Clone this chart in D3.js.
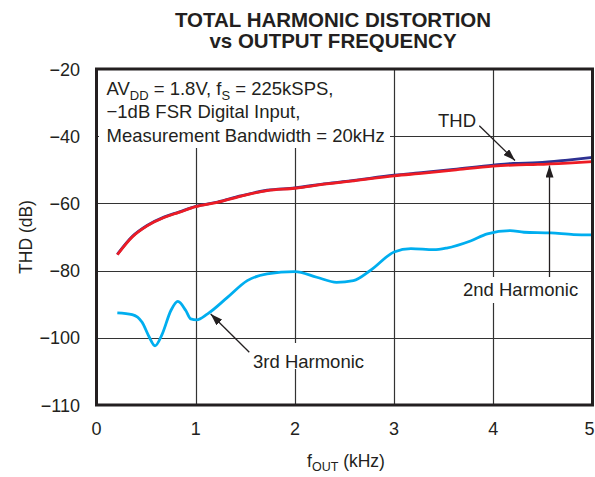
<!DOCTYPE html>
<html><head><meta charset="utf-8">
<script src="https://cdn.jsdelivr.net/npm/d3@7"></script>
<style>body{margin:0;background:#fff}svg{display:block}text{font-family:"Liberation Sans",Arial,sans-serif;fill:#231f20}</style>
</head><body><svg id="c" width="595" height="477"></svg>
<script>
// ---- data ----
const freqMain = [0.21,0.36,0.51,0.68,0.83,1.0,1.22,1.45,1.72,2.0,2.32,2.56,3.0,3.3,3.6,4.0,4.2,4.45,4.75,5.0];
const thdValues = [-75.2,-69.9,-66.6,-64.1,-62.6,-60.9,-59.6,-57.8,-56.1,-55.4,-54.1,-53.3,-51.6,-50.8,-49.9,-48.6,-48.1,-47.9,-47.1,-46.3];
const secondValues = [-75.3,-70.0,-66.7,-64.2,-62.7,-61.0,-59.7,-57.9,-56.2,-55.5,-54.2,-53.4,-51.8,-51.0,-50.1,-48.9,-48.6,-48.4,-48.0,-47.6];
const freqThird = [0.21,0.36,0.46,0.53,0.59,0.66,0.75,0.82,0.90,0.95,1.01,1.12,1.32,1.52,1.72,2.0,2.22,2.42,2.59,2.76,3.0,3.17,3.40,3.53,3.77,3.94,4.17,4.31,4.58,4.81,5.0];
const thirdValues = [-92.6,-93.1,-95.4,-99.7,-101.2,-99.1,-91.9,-89.2,-91.9,-94.4,-94.7,-92.9,-88.0,-83.0,-81.0,-80.3,-82.0,-83.5,-83.0,-80.0,-74.5,-73.5,-73.8,-73.3,-71.2,-69.1,-68.1,-68.6,-68.8,-69.3,-69.4];
const xTicks = [0,1,2,3,4,5];
const yTicks = [-20,-40,-60,-80,-100,-110];
const yTickLabels = ["−20","−40","−60","−80","−100","−110"];

const svg = d3.select("#c");
const L = 96.5, R = 592.5;
const x = d3.scaleLinear().domain([0,5]).range([L,R]);
// axis as printed: the last interval (−100 to −110) has the same height as a 20 dB step
const y = d3.scaleLinear().domain([-110,-100,-20]).range([405,337.7,69]);

// grid
const g = svg.append("g");
g.selectAll(".vg").data(xTicks.slice(1,-1)).enter().append("line")
  .attr("x1",d=>Math.round(x(d))+0.5).attr("x2",d=>Math.round(x(d))+0.5)
  .attr("y1",y(-20)).attr("y2",y(-110)).attr("stroke","#333").attr("stroke-width",1.2);
g.selectAll(".hg").data(yTicks.slice(1,-1)).enter().append("line")
  .attr("y1",d=>Math.round(y(d))+0.5).attr("y2",d=>Math.round(y(d))+0.5)
  .attr("x1",L).attr("x2",R).attr("stroke","#333").attr("stroke-width",1.2);

// white background behind the conditions text
svg.append("rect").attr("x",99).attr("y",70).attr("width",291).attr("height",78).attr("fill","#fff");
// white bg for labels
svg.append("rect").attr("x",460).attr("y",277).attr("width",124).attr("height",26).attr("fill","#fff");
svg.append("rect").attr("x",250).attr("y",343).attr("width",118).attr("height",26).attr("fill","#fff");

// curves
const line = (xs) => d3.line().x((d,i)=>x(xs[i])).y(d=>y(d)).curve(d3.curveMonotoneX);
svg.append("path").attr("d",line(freqThird)(thirdValues)).attr("fill","none").attr("stroke","#00aeef").attr("stroke-width",2.8);
svg.append("path").attr("d",line(freqMain)(thdValues)).attr("fill","none").attr("stroke","#2e3192").attr("stroke-width",2.8);
svg.append("path").attr("d",line(freqMain)(secondValues)).attr("fill","none").attr("stroke","#ed1c24").attr("stroke-width",2.8);

// frame
svg.append("rect").attr("x",x(0)).attr("y",y(-20)).attr("width",x(5)-x(0)).attr("height",y(-110)-y(-20))
  .attr("fill","none").attr("stroke","#231f20").attr("stroke-width",3);

// tick labels
svg.selectAll(".yl").data(yTicks).enter().append("text")
  .attr("x",80).attr("y",d=>y(d)+6.5).attr("text-anchor","end").attr("font-size",18)
  .text((d,i)=>yTickLabels[i]);
svg.selectAll(".xl").data(xTicks).enter().append("text")
  .attr("x",d=>d===5?594.5:x(d)).attr("y",435).attr("text-anchor",d=>d===5?"end":"middle")
  .attr("font-size",18).text(d=>d);

// axis titles
svg.append("text").attr("transform","translate(32,237) rotate(-90)").attr("text-anchor","middle")
  .attr("font-size",17.5).text("THD (dB)");
const xt = svg.append("text").attr("x",346).attr("y",467).attr("text-anchor","middle").attr("font-size",17.5);
xt.append("tspan").text("f");
xt.append("tspan").attr("dy",4).attr("font-size",12.5).text("OUT");
xt.append("tspan").attr("dy",-4).text(" (kHz)");

// title
svg.append("text").attr("x",333).attr("y",26.5).attr("text-anchor","middle").attr("font-size",20.5).attr("font-weight","bold").text("TOTAL HARMONIC DISTORTION");
svg.append("text").attr("x",333).attr("y",47.5).attr("text-anchor","middle").attr("font-size",20.5).attr("font-weight","bold").text("vs OUTPUT FREQUENCY");

// conditions text
const fs = 18.5;
const t1 = svg.append("text").attr("x",106.5).attr("y",95).attr("font-size",fs);
t1.append("tspan").text("AV");
t1.append("tspan").attr("dy",4.5).attr("font-size",13).text("DD");
t1.append("tspan").attr("dy",-4.5).text(" = 1.8V, f");
t1.append("tspan").attr("dy",4.5).attr("font-size",13).text("S");
t1.append("tspan").attr("dy",-4.5).text(" = 225kSPS,");
svg.append("text").attr("x",106.5).attr("y",118.3).attr("font-size",fs).text("−1dB FSR Digital Input,");
svg.append("text").attr("x",106.5).attr("y",141.7).attr("font-size",fs).text("Measurement Bandwidth = 20kHz");

// labels
svg.append("text").attr("x",438).attr("y",126.7).attr("font-size",fs).text("THD");
svg.append("text").attr("x",463).attr("y",295.7).attr("font-size",fs).text("2nd Harmonic");
svg.append("text").attr("x",253).attr("y",368).attr("font-size",fs).text("3rd Harmonic");

// arrows
svg.append("defs").append("marker").attr("id","ah").attr("viewBox","0 0 12 8").attr("refX",12).attr("refY",4)
  .attr("markerWidth",12).attr("markerHeight",8).attr("markerUnits","userSpaceOnUse").attr("orient","auto")
  .append("path").attr("d","M0,0L12,4L0,8Z").attr("fill","#231f20");
const arrows = [[479.3,125.7,515,160.5],[549.5,277,549.5,165.5],[249.3,352.3,210.7,314]];
svg.selectAll(".ar").data(arrows).enter().append("line")
  .attr("x1",d=>d[0]).attr("y1",d=>d[1]).attr("x2",d=>d[2]).attr("y2",d=>d[3])
  .attr("stroke","#231f20").attr("stroke-width",1.3).attr("marker-end","url(#ah)");
</script></body></html>
